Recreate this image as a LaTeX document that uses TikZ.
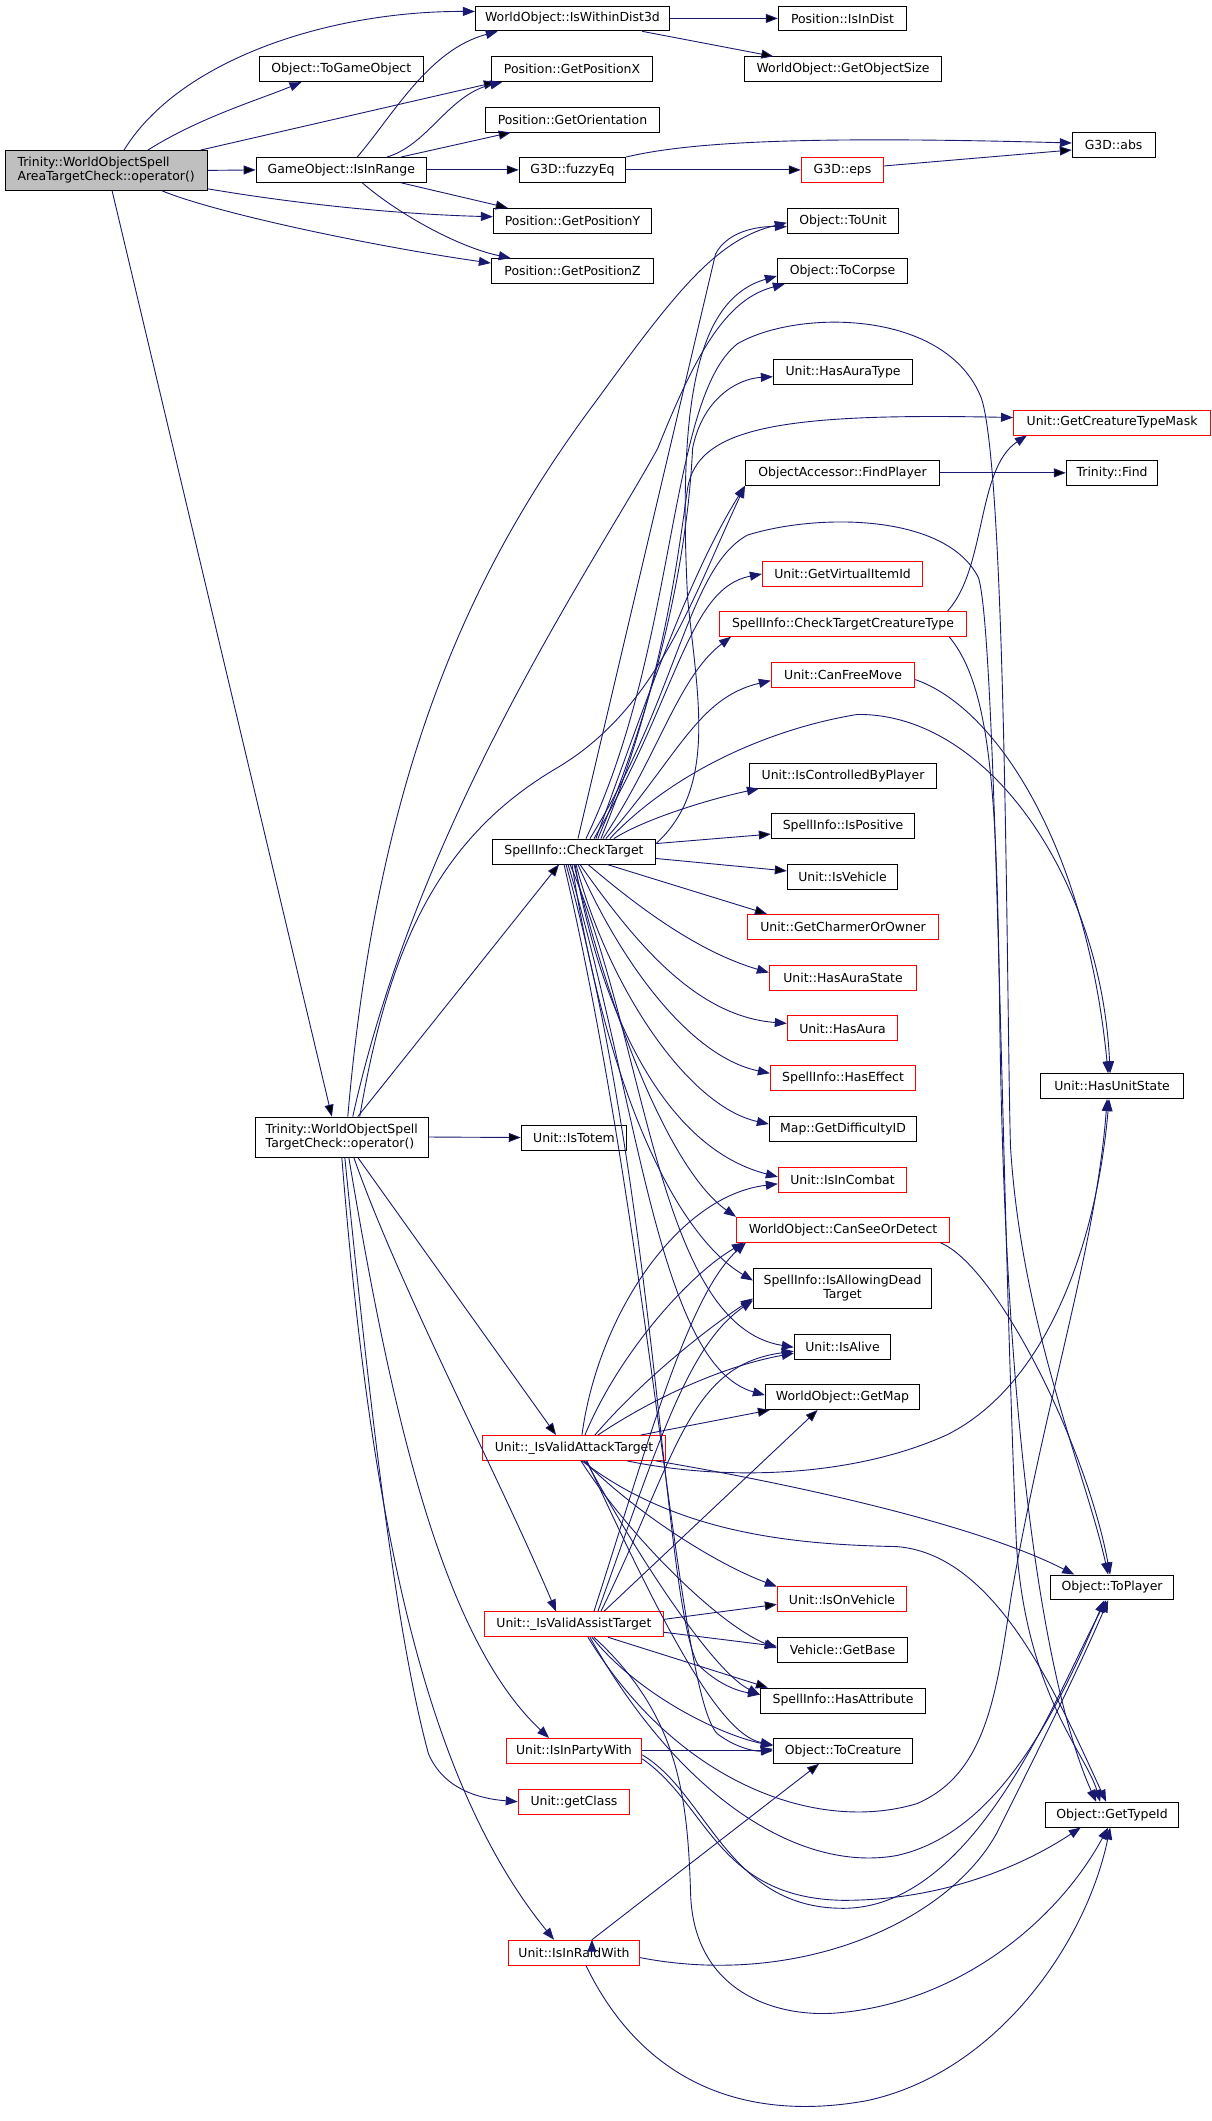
\documentclass[tikz,border=0pt]{standalone}
\usepackage{fontspec}
\setmainfont{DejaVu Sans}
\usetikzlibrary{arrows.meta}

\definecolor{edgeblue}{HTML}{191970}
\definecolor{rootgray}{HTML}{BFBFBF}

\begin{document}
\begin{tikzpicture}[x=1pt,y=-1pt,
  fn/.style={draw=black, line width=0.9pt, minimum height=25pt, inner xsep=2pt, inner ysep=0pt,
    font=\fontsize{12.5}{14}\selectfont, text=black},
  bw/.style={minimum width=#1},
  ext/.style={fn, draw=red},
  two/.style={fn, minimum height=40pt, align=left},
  call/.style={draw=edgeblue, line width=0.9pt, -{Triangle[length=12pt,width=9pt]}}]
\fill[white] (0,0) rectangle (1216,2121);

% callers
\node[two, fill=rootgray, bw=203] (root) at (106.5,171) {Trinity::WorldObjectSpell\\AreaTargetCheck::operator()};
\node[fn, bw=171] (inrange) at (342.5,170.5) {GameObject::IsInRange};
\node[fn, bw=165] (togo) at (342.5,69.5) {Object::ToGameObject};
\node[two, bw=174] (tco) at (343,1141) {Trinity::WorldObjectSpell\\TargetCheck::operator()};

% third column
\node[fn, bw=195] (dist3d) at (574.5,18.5) {WorldObject::IsWithinDist3d};
\node[fn, bw=162] (posx) at (574,69.5) {Position::GetPositionX};
\node[fn, bw=175] (orient) at (574.5,120) {Position::GetOrientation};
\node[fn, bw=107] (fuzzy) at (574.5,170.5) {G3D::fuzzyEq};
\node[fn, bw=159] (posy) at (574.5,221.5) {Position::GetPositionY};
\node[fn, bw=163] (posz) at (574.5,272) {Position::GetPositionZ};
\node[fn, bw=164] (checktgt) at (576,854.5) {SpellInfo::CheckTarget};
\node[fn, bw=106] (istotem) at (576,1141.5) {Unit::IsTotem};
\node[ext, bw=184] (attack) at (576,1453) {Unit::\_IsValidAttackTarget};
\node[ext, bw=180] (assist) at (576,1630) {Unit::\_IsValidAssistTarget};
\node[ext, bw=136] (partywith) at (576,1757) {Unit::IsInPartyWith};
\node[ext, bw=112] (getclass) at (576,1808) {Unit::getClass};
\node[ext, bw=132] (raidwith) at (576,1959.5) {Unit::IsInRaidWith};

% fourth column
\node[fn, bw=129] (indist) at (845.5,18.5) {Position::IsInDist};
\node[fn, bw=198] (objsize) at (846,69.5) {WorldObject::GetObjectSize};
\node[ext, bw=83] (eps) at (845.5,170.5) {G3D::eps};
\node[fn, bw=112] (tounit) at (846,221.5) {Object::ToUnit};
\node[fn, bw=131] (tocorpse) at (845.5,272) {Object::ToCorpse};
\node[fn, bw=140] (auratype) at (846,373) {Unit::HasAuraType};
\node[fn, bw=195] (findplayer) at (845.5,474.5) {ObjectAccessor::FindPlayer};
\node[ext, bw=161] (itemid) at (845.5,576) {Unit::GetVirtualItemId};
\node[ext, bw=248] (cttype) at (846,626) {SpellInfo::CheckTargetCreatureType};
\node[ext, bw=144] (freemove) at (846,677) {Unit::CanFreeMove};
\node[fn, bw=188] (ctrlplayer) at (846,778.5) {Unit::IsControlledByPlayer};
\node[fn, bw=144] (positive) at (846,829) {SpellInfo::IsPositive};
\node[fn, bw=111] (isvehicle) at (845.5,880) {Unit::IsVehicle};
\node[ext, bw=192] (charmer) at (846,930) {Unit::GetCharmerOrOwner};
\node[ext, bw=148] (aurastate) at (846,981) {Unit::HasAuraState};
\node[ext, bw=111] (hasaura) at (845.5,1032) {Unit::HasAura};
\node[ext, bw=146] (haseffect) at (846,1082) {SpellInfo::HasEffect};
\node[fn, bw=148] (difficulty) at (846,1133) {Map::GetDifficultyID};
\node[ext, bw=129] (incombat) at (845.5,1184) {Unit::IsInCombat};
\node[ext, bw=214] (seeordetect) at (846,1234) {WorldObject::CanSeeOrDetect};
\node[fn, bw=179, minimum height=40pt, align=center] (alivedead) at (845.5,1293) {SpellInfo::IsAllowingDead\\Target};
\node[fn, bw=97] (isalive) at (845.5,1352) {Unit::IsAlive};
\node[fn, bw=155] (getmap) at (845.5,1402) {WorldObject::GetMap};
\node[ext, bw=130] (onvehicle) at (845,1605) {Unit::IsOnVehicle};
\node[fn, bw=131] (getbase) at (845.5,1656) {Vehicle::GetBase};
\node[fn, bw=166] (hasattr) at (846,1706.5) {SpellInfo::HasAttribute};
\node[fn, bw=140] (tocreature) at (846,1757) {Object::ToCreature};

% right column
\node[fn, bw=83] (abs) at (1117.5,145.5) {G3D::abs};
\node[ext, bw=198] (typemask) at (1116,424) {Unit::GetCreatureTypeMask};
\node[fn, bw=92] (find) at (1116,474.5) {Trinity::Find};
\node[fn, bw=144] (unitstate) at (1116,1090) {Unit::HasUnitState};
\node[fn, bw=124] (toplayer) at (1116,1593) {Object::ToPlayer};
\node[fn, bw=134] (typeid) at (1116,1821) {Object::GetTypeId};

% straight calls
\path[call]
  (root.east) edge (inrange.west)
  ([xshift=95]root.north) edge ([xshift=5]posx.south west)
  ([xshift=6]root.south) edge ([xshift=-10]tco.north)
  (dist3d.east) edge (indist.west)
  ([xshift=70]dist3d.south) edge ([xshift=-70]objsize.north)
  ([xshift=60]inrange.north) edge ([xshift=-62]orient.south)
  (inrange.east) edge (fuzzy.west)
  ([xshift=60]inrange.south) edge ([xshift=-65]posy.north)
  (fuzzy.east) edge (eps.west)
  ([yshift=4]eps.east) edge ([yshift=-5]abs.west)
  (findplayer.east) edge (find.west)
  ([xshift=16]tco.north) edge ([xshift=-15]checktgt.south)
  (tco.east) edge (istotem.west)
  ([xshift=16]tco.south) edge ([xshift=-18]attack.north)
  ([yshift=8]checktgt.east) edge ([yshift=-8]positive.west)
  ([yshift=-7]checktgt.east) edge ([yshift=6]isvehicle.west)
  ([xshift=33]checktgt.south) edge ([xshift=20]charmer.north west)
  ([xshift=67]attack.north) edge ([xshift=5]getmap.south west)
  ([xshift=30]assist.north) edge ([xshift=-25]getmap.south)
  ([yshift=5]assist.east) edge ([yshift=-5]onvehicle.west)
  ([yshift=-8]assist.east) edge ([yshift=4]getbase.west)
  ([xshift=34]assist.south) edge ([xshift=8]hasattr.north west)
  (partywith.east) edge (tocreature.west)
  ([xshift=18]raidwith.north) edge ([xshift=-24]tocreature.south);

% top part
\draw[call] ([xshift=18]root.north) .. controls (180,60) and (330,11) .. ([yshift=7]dist3d.west);
\draw[call] ([xshift=42]root.north) .. controls (200,118) and (260,100) .. ([xshift=-40]togo.south);
\draw[call] ([yshift=2]root.south east) .. controls (300,205) and (400,215) .. ([yshift=4]posy.west);
\draw[call] ([xshift=56]root.south) .. controls (220,215) and (380,248) .. ([yshift=8]posz.west);
\draw[call] ([xshift=16]inrange.north) .. controls (395,115) and (430,50) .. ([xshift=-75]dist3d.south);
\draw[call] ([xshift=46]inrange.north) .. controls (430,145) and (450,95) .. ([xshift=-70]posx.south);
\draw[call] ([xshift=21]inrange.south) .. controls (400,215) and (460,248) .. ([xshift=-62]posz.north);
\draw[call] (fuzzy.north east) .. controls (690,143) and (800,136) .. ([yshift=2]abs.west);

% target check
\draw[call] ([xshift=6]tco.north) .. controls (380,760) and (480,560) .. (600,400) .. controls (680,290) and (720,240) .. ([yshift=-2]tounit.west);
\draw[call] ([xshift=11]tco.north) .. controls (420,820) and (600,560) .. (660,450) .. controls (700,350) and (730,300) .. ([xshift=8]tocorpse.south west);
\draw[call] ([xshift=18]tco.north) .. controls (390,950) and (440,840) .. (560,770) .. controls (660,710) and (695,600) .. (findplayer.south west);
\draw[call] ([xshift=12]tco.south) .. controls (400,1290) and (500,1480) .. ([xshift=-18]assist.north);
\draw[call] ([xshift=7]tco.south) .. controls (390,1400) and (440,1640) .. ([xshift=-25]partywith.north);
\draw[call] ([xshift=3]tco.south) .. controls (375,1450) and (400,1650) .. (430,1760) .. controls (445,1795) and (480,1805) .. (getclass.west);
\draw[call] (tco.south) .. controls (370,1500) and (420,1780) .. ([xshift=-20]raidwith.north);

% check target, upwards
\draw[call] ([xshift=4]checktgt.north) -- (718,255) .. controls (730,232) and (760,227) .. ([yshift=-6]tounit.west);
\draw[call] ([yshift=8]checktgt.east) .. controls (720,790) and (700,700) .. (690,600) .. controls (680,400) and (700,300) .. ([yshift=-5]tocorpse.west);
\draw[call] ([xshift=24]checktgt.north) .. controls (660,700) and (690,560) .. (695,450) .. controls (705,400) and (740,380) .. ([yshift=-5]auratype.west);
\draw[call] ([xshift=27]checktgt.north) .. controls (665,690) and (680,560) .. (690,490) .. controls (700,430) and (780,414) .. ([yshift=5]typemask.west);
\draw[call] ([xshift=22]checktgt.north) .. controls (650,700) and (690,580) .. (findplayer.south west);
\draw[call] ([xshift=20]checktgt.north) .. controls (680,700) and (690,590) .. (itemid.west);
\draw[call] ([xshift=29]checktgt.north) .. controls (660,760) and (680,680) .. ([xshift=12]cttype.south west);
\draw[call] ([xshift=32]checktgt.north) .. controls (680,760) and (700,700) .. ([yshift=-6]freemove.west);
\draw[call] ([xshift=12]checktgt.north) .. controls (680,650) and (670,400) .. (740,345) .. controls (800,310) and (950,310) .. (985,400) .. controls (1010,480) and (1010,1000) .. (1014,1150) .. controls (1025,1330) and (1090,1480) .. ([xshift=-4]toplayer.north);
\draw[call] ([xshift=16]checktgt.north) .. controls (680,700) and (690,570) .. (750,537) .. controls (820,515) and (950,515) .. (982,580) .. controls (1000,640) and (1005,1200) .. (1020,1550) .. controls (1030,1700) and (1090,1760) .. ([xshift=-12]typeid.north);
\draw[call] ([xshift=36]checktgt.north) .. controls (680,770) and (780,730) .. (860,717) .. controls (990,715) and (1105,880) .. ([xshift=-2]unitstate.north);
\draw[call] ([xshift=40]checktgt.north) .. controls (650,820) and (720,800) .. ([xshift=10]ctrlplayer.south west);

% check target, downwards
\draw[call] ([xshift=14]checktgt.south) .. controls (640,910) and (700,955) .. ([yshift=5]aurastate.west);
\draw[call] ([xshift=6]checktgt.south) .. controls (640,950) and (700,1020) .. ([yshift=5]hasaura.west);
\draw[call] ([xshift=4]checktgt.south) .. controls (620,960) and (690,1060) .. ([yshift=5]haseffect.west);
\draw[call] ([xshift=2]checktgt.south) .. controls (610,990) and (690,1110) .. ([yshift=5]difficulty.west);
\draw[call] ([xshift=1]checktgt.south) .. controls (600,1000) and (660,1150) .. ([yshift=3]incombat.west);
\draw[call] (checktgt.south) .. controls (620,1050) and (680,1180) .. (seeordetect.north west);
\draw[call] ([xshift=-2]checktgt.south) .. controls (610,1100) and (680,1240) .. ([yshift=8]alivedead.west);
\draw[call] ([xshift=-4]checktgt.south) .. controls (650,1050) and (660,1330) .. (isalive.west);
\draw[call] ([xshift=-6]checktgt.south) .. controls (640,1100) and (660,1370) .. ([yshift=2]getmap.west);
\draw[call] ([xshift=-8]checktgt.south) .. controls (660,1200) and (665,1600) .. (700,1670) .. controls (720,1690) and (740,1697) .. ([yshift=6]hasattr.west);
\draw[call] ([xshift=-10]checktgt.south) .. controls (655,1250) and (680,1700) .. (720,1740) .. controls (740,1755) and (760,1758) .. ([yshift=2]tocreature.west);

% attack target
\draw[call] ([xshift=8]attack.north) .. controls (600,1320) and (680,1200) .. ([yshift=-4]incombat.west);
\draw[call] ([xshift=11]attack.north) .. controls (620,1360) and (690,1280) .. ([xshift=8]seeordetect.south west);
\draw[call] ([xshift=21]attack.north) .. controls (640,1390) and (700,1340) .. ([yshift=-10]alivedead.west);
\draw[call] ([xshift=24]attack.north) .. controls (660,1400) and (730,1370) .. ([yshift=-6]isalive.west);
\draw[call] ([xshift=53]attack.south) .. controls (720,1485) and (850,1485) .. (950,1440) .. controls (1050,1390) and (1100,1250) .. ([xshift=-3]unitstate.south);
\draw[call] ([xshift=82]attack.south) .. controls (800,1490) and (980,1530) .. ([xshift=-38]toplayer.north);
\draw[call] ([xshift=8]attack.south) .. controls (680,1540) and (800,1550) .. (900,1552) .. controls (1000,1560) and (1060,1700) .. ([xshift=-6]typeid.north);
\draw[call] ([xshift=10]attack.south) .. controls (640,1520) and (720,1570) .. (onvehicle.north west);
\draw[call] ([xshift=7]attack.south) .. controls (630,1540) and (720,1630) .. ([yshift=2]getbase.west);
\draw[call] ([xshift=12]attack.south) .. controls (650,1580) and (720,1680) .. ([yshift=6]hasattr.west);
\draw[call] ([xshift=13]attack.south) .. controls (660,1620) and (720,1740) .. ([yshift=6]tocreature.west);

% assist target
\draw[call] ([xshift=20]assist.north) .. controls (650,1450) and (690,1300) .. ([xshift=10]seeordetect.south west);
\draw[call] ([xshift=24]assist.north) .. controls (660,1450) and (690,1350) .. ([yshift=-12]alivedead.west);
\draw[call] ([xshift=27]assist.north) .. controls (680,1460) and (690,1370) .. ([yshift=-4]isalive.west);
\draw[call] ([xshift=14]assist.south) .. controls (680,1790) and (820,1840) .. (920,1810) .. controls (990,1780) and (1000,1700) .. (1015,1600) .. controls (1050,1400) and (1100,1250) .. ([xshift=-5]unitstate.south);
\draw[call] ([xshift=18]assist.south) .. controls (640,1700) and (720,1740) .. ([yshift=5]tocreature.west);
\draw[call] ([xshift=16]assist.south) .. controls (680,1800) and (800,1880) .. (900,1862) .. controls (1000,1840) and (1060,1720) .. ([xshift=-8]toplayer.south);
\draw[call] ([xshift=20]assist.south) .. controls (680,1720) and (690,1800) .. (693,1900) .. controls (696,2000) and (780,2025) .. (840,2020) .. controls (960,2010) and (1060,1930) .. ([xshift=-4]typeid.south);

% party and raid
\draw[call] ([yshift=-4]partywith.east) .. controls (710,1800) and (730,1915) .. (846,1915) .. controls (980,1915) and (1060,1700) .. ([xshift=-6]toplayer.south);
\draw[call] ([yshift=-8]partywith.east) .. controls (710,1810) and (720,1905) .. (846,1907) .. controls (950,1907) and (1030,1870) .. ([xshift=36]typeid.south west);
\draw[call] ([yshift=-5]raidwith.east) .. controls (800,1995) and (950,1930) .. (1000,1840) .. controls (1040,1760) and (1080,1680) .. ([xshift=-4]toplayer.south);
\draw[call] ([xshift=12]raidwith.south) .. controls (650,2100) and (760,2128) .. (870,2108) .. controls (1000,2080) and (1090,1950) .. ([xshift=-2]typeid.south);

% right side
\draw[call] ([xshift=-10]seeordetect.south east) .. controls (1000,1270) and (1090,1450) .. ([xshift=-2]toplayer.north);
\draw[call] ([xshift=105]cttype.north) .. controls (990,570) and (980,470) .. ([xshift=14]typemask.south west);
\draw[call] ([xshift=-18]cttype.south east) .. controls (995,690) and (1000,800) .. (1003,1000) .. controls (1008,1500) and (1060,1720) .. ([xshift=-16]typeid.north);
\draw[call] ([yshift=-5]freemove.east) .. controls (1000,710) and (1090,850) .. ([xshift=-4]unitstate.north);
\end{tikzpicture}
\end{document}
